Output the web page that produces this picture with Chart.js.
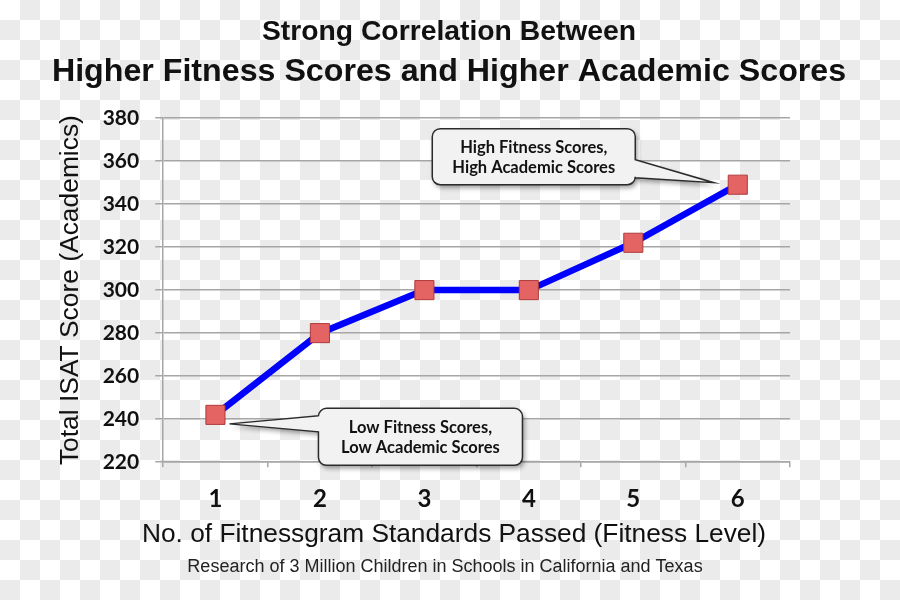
<!DOCTYPE html>
<html>
<head>
<meta charset="utf-8">
<script src="https://cdn.jsdelivr.net/npm/chart.js@4"></script>
<style>
  html, body {
    margin: 0;
    padding: 0;
  }
  body {
    width: 900px;
    height: 600px;
    background-color: #fff;
    background-image: conic-gradient(#ebebeb 25%, #fff 0 50%, #ebebeb 0 75%, #fff 0);
    background-size: 40px 40px;
  }
  #wrap {
    position: relative;
    width: 900px;
    height: 600px;
  }
</style>
</head>
<body>
<div id="wrap"><canvas id="fitnessChart"></canvas></div>
<script>
/* =========================
   DATA
========================= */

const fitnessLevels = ['1', '2', '3', '4', '5', '6'];
const isatScores = [242, 280, 300, 300, 322, 349];

const yTickMin = 220;
const yTickMax = 380;
const yTickStep = 20;

const calloutIndex = [5, 0];
const calloutLines = [
  ['High Fitness Scores,', 'High Academic Scores'],
  ['Low Fitness Scores,', 'Low Academic Scores']
];

const titleText = 'Strong Correlation Between';
const subtitleText = 'Higher Fitness Scores and Higher Academic Scores';
const xTitleText = 'No. of Fitnessgram Standards Passed (Fitness Level)';
const yTitleText = 'Total ISAT Score (Academics)';
const footnoteText = 'Research of 3 Million Children in Schools in California and Texas';

/* =========================
   CALLOUT PLUGIN
========================= */

// box placement relative to the data point it points at
const calloutStyle = [
  { dx: -204, dy: -28, w: 203, h: 56, side: 'right', b1: 3, b2: 21, tipX: -24, tipY: -2 },
  { dx: 205, dy: 22, w: 204, h: 57, side: 'left', b1: -21, b2: -5, tipX: 14, tipY: 9 }
];

function calloutPath(ctx, x, y, w, h, r, side, b1, b2, tx, ty) {
  ctx.beginPath();
  ctx.moveTo(x + r, y);
  ctx.lineTo(x + w - r, y);
  ctx.arcTo(x + w, y, x + w, y + r, r);
  if (side === 'right') {
    ctx.lineTo(x + w, b1);
    ctx.lineTo(tx, ty);
    ctx.lineTo(x + w, b2);
  }
  ctx.lineTo(x + w, y + h - r);
  ctx.arcTo(x + w, y + h, x + w - r, y + h, r);
  ctx.lineTo(x + r, y + h);
  ctx.arcTo(x, y + h, x, y + h - r, r);
  if (side === 'left') {
    ctx.lineTo(x, b2);
    ctx.lineTo(tx, ty);
    ctx.lineTo(x, b1);
  }
  ctx.lineTo(x, y + r);
  ctx.arcTo(x, y, x + r, y, r);
  ctx.closePath();
}

const calloutPlugin = {
  id: 'callouts',
  afterDatasetsDraw(chart) {
    const ctx = chart.ctx;
    const xs = chart.scales.x;
    const ys = chart.scales.y;

    calloutIndex.forEach((idx, i) => {
      const s = calloutStyle[i];
      const px = xs.getPixelForValue(idx);
      const py = ys.getPixelForValue(isatScores[idx]);
      const cx = px + s.dx;
      const cy = py + s.dy;
      const x = cx - s.w / 2;
      const y = cy - s.h / 2;

      ctx.save();
      calloutPath(ctx, x, y, s.w, s.h, 8, s.side, cy + s.b1, cy + s.b2, px + s.tipX, py + s.tipY);
      ctx.shadowColor = 'rgba(0,0,0,0.4)';
      ctx.shadowBlur = 5;
      ctx.shadowOffsetX = 2;
      ctx.shadowOffsetY = 3;
      ctx.fillStyle = '#f2f2f2';
      ctx.fill();
      ctx.shadowColor = 'transparent';
      ctx.lineWidth = 1.5;
      ctx.strokeStyle = '#2b2b2b';
      ctx.stroke();

      ctx.fillStyle = '#111';
      ctx.font = 'bold 16.5px Lato';
      ctx.textAlign = 'center';
      ctx.textBaseline = 'middle';
      ctx.fillText(calloutLines[i][0], cx, cy - 9);
      ctx.fillText(calloutLines[i][1], cx, cy + 11);
      ctx.restore();
    });
  }
};

// headings on top, x axis title and footnote below the axis
const textPlugin = {
  id: 'pageText',
  afterDraw(chart) {
    const ctx = chart.ctx;
    const area = chart.chartArea;
    ctx.save();
    ctx.fillStyle = '#111';
    ctx.textAlign = 'center';
    ctx.textBaseline = 'middle';

    ctx.font = 'bold 28.3px "Liberation Sans", Arial';
    ctx.fillText(titleText, 449, 32);
    ctx.font = 'bold 32.2px "Liberation Sans", Arial';
    ctx.fillText(subtitleText, 449, 72);

    ctx.font = '26.3px "Liberation Sans", Arial';
    ctx.fillText(xTitleText, 454, area.bottom + 73);
    ctx.font = '18px "Liberation Sans", Arial';
    ctx.fillStyle = '#222';
    ctx.fillText(footnoteText, 445, area.bottom + 105);
    ctx.restore();
  }
};

/* =========================
   MAIN CHART
========================= */

function createChart() {

  const ctx = document.getElementById('fitnessChart').getContext('2d');

  new Chart(ctx, {
    type: 'line',

    data: {
      labels: fitnessLevels,
      datasets: [
        {
          label: 'ISAT',
          data: isatScores,
          borderColor: '#0000ff',
          borderWidth: 6.5,
          tension: 0,
          fill: false,
          pointStyle: 'rect',
          pointRadius: 13.5,
          pointHoverRadius: 13.5,
          pointBackgroundColor: '#e46464',
          pointBorderColor: '#b03a3a',
          pointBorderWidth: 1
        }
      ]
    },

    options: {
      responsive: true,
      maintainAspectRatio: false,
      animation: false,

      layout: {
        padding: { left: 55, right: 110, top: 118, bottom: 68 }
      },

      scales: {
        x: {
          offset: true,
          grid: {
            offset: true,
            drawOnChartArea: false,
            drawTicks: true,
            tickLength: 5,
            color: '#a6a6a6',
            lineWidth: 1.5
          },
          border: { display: true, color: '#a6a6a6', width: 1.5 },
          ticks: {
            color: '#111',
            padding: 18,
            font: { family: 'Lato', weight: 'bold', size: 24 }
          }
        },

        y: {
          min: yTickMin,
          max: yTickMax,
          grid: {
            color: '#a6a6a6',
            lineWidth: 1.5,
            tickLength: 8
          },
          border: { display: true, color: '#a6a6a6', width: 1.5 },
          ticks: {
            stepSize: yTickStep,
            color: '#111',
            padding: 16,
            font: { family: 'Lato', weight: 'bold', size: 21 }
          },
          title: {
            display: true,
            text: yTitleText,
            color: '#111',
            padding: { top: 0, bottom: 0 },
            font: { family: '"Liberation Sans", Arial', size: 26.4 }
          }
        }
      },

      plugins: {
        legend: { display: false },
        tooltip: { enabled: false },
        title: { display: false }
      }
    },

    plugins: [calloutPlugin, textPlugin]
  });
}

createChart();
</script>
</body>
</html>
